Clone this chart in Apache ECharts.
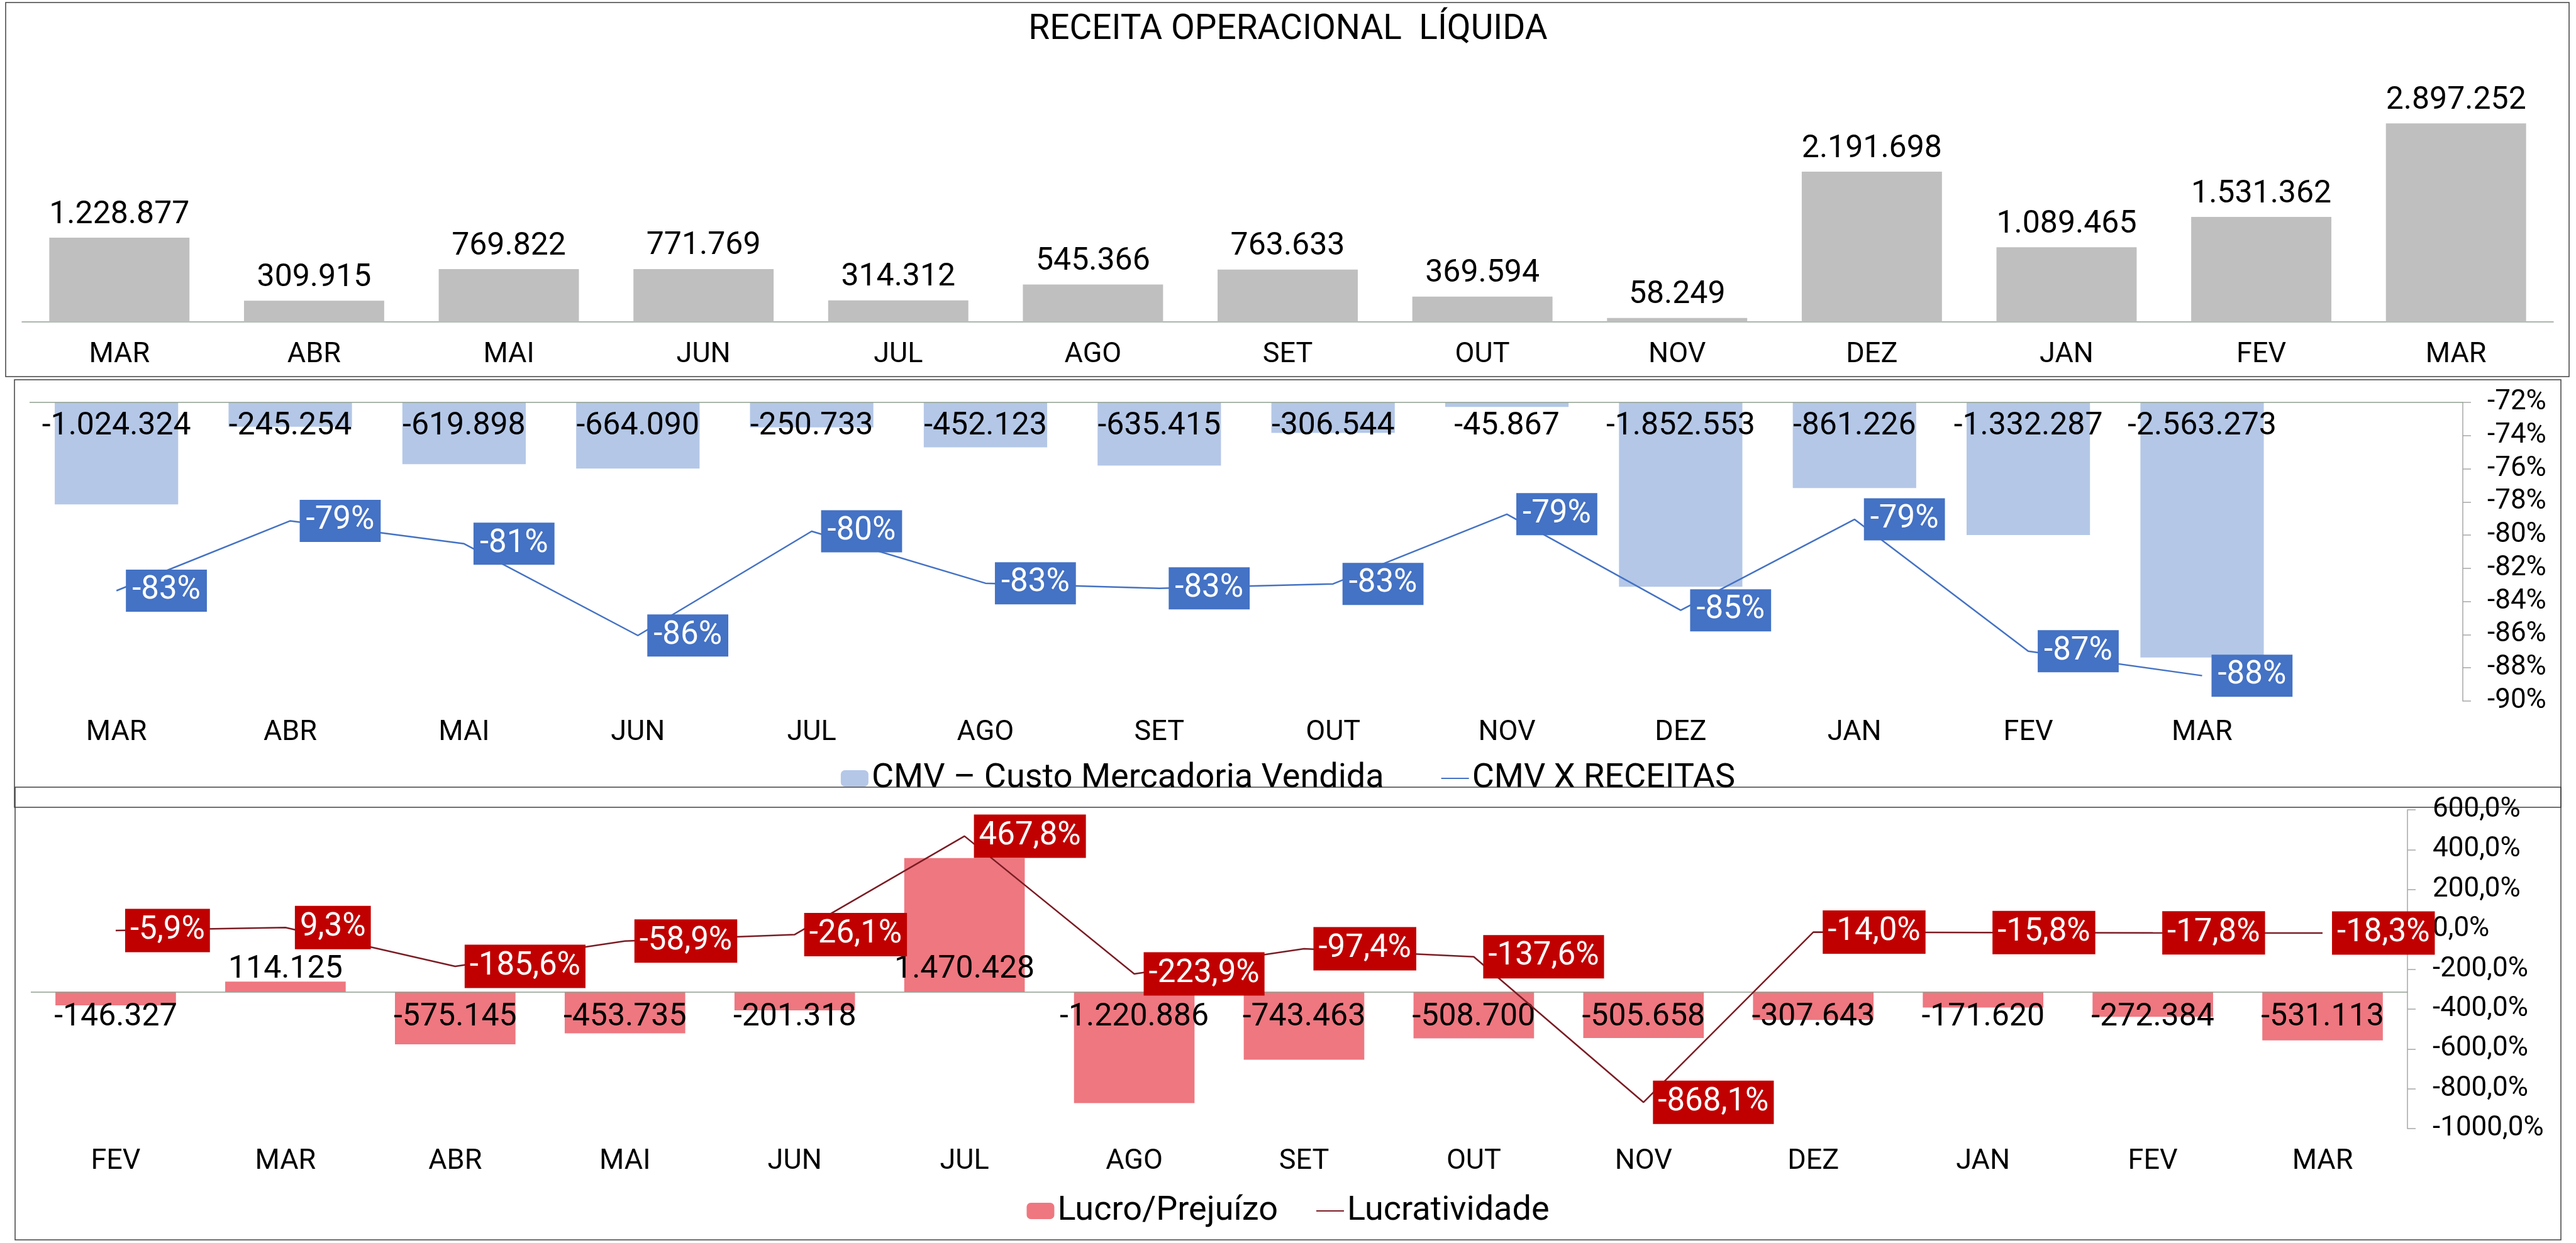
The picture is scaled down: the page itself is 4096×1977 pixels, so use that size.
<!DOCTYPE html>
<html>
<head>
<meta charset="utf-8">
<script src="https://cdn.jsdelivr.net/npm/echarts@6/dist/echarts.min.js"></script>
<style>
  html, body { margin: 0; padding: 0; background: #fff; }
  #chart { width: 4096px; height: 1977px; }
</style>
</head>
<body>
<div id="chart"></div>
<script>
// receita operacional
var meses1 = ['MAR', 'ABR', 'MAI', 'JUN', 'JUL', 'AGO', 'SET', 'OUT', 'NOV', 'DEZ', 'JAN', 'FEV', 'MAR'];
var receita = [1228877, 309915, 769822, 771769, 314312, 545366, 763633, 369594, 58249, 2191698, 1089465, 1531362, 2897252];

// CMV
var meses2 = ['MAR', 'ABR', 'MAI', 'JUN', 'JUL', 'AGO', 'SET', 'OUT', 'NOV', 'DEZ', 'JAN', 'FEV', 'MAR', ''];
var cmv = [-1024324, -245254, -619898, -664090, -250733, -452123, -635415, -306544, -45867, -1852553, -861226, -1332287, -2563273];
var cmvPct = [-83.35, -79.14, -80.52, -86.05, -79.77, -82.90, -83.21, -82.94, -78.74, -84.53, -79.05, -87.00, -88.47];

// lucro / prejuizo
var meses3 = ['FEV', 'MAR', 'ABR', 'MAI', 'JUN', 'JUL', 'AGO', 'SET', 'OUT', 'NOV', 'DEZ', 'JAN', 'FEV', 'MAR'];
var lucro = [-146327, 114125, -575145, -453735, -201318, 1470428, -1220886, -743463, -508700, -505658, -307643, -171620, -272384, -531113];
var lucrat = [-5.9, 9.3, -185.6, -58.9, -26.1, 467.8, -223.9, -97.4, -137.6, -868.1, -14.0, -15.8, -17.8, -18.3];

var FONT = 'Roboto';

function fmtNum(v) {
    var s = Math.abs(v).toString().replace(/\B(?=(\d{3})+(?!\d))/g, '.');
    return (v < 0 ? '-' : '') + s;
}

var chart = echarts.init(document.getElementById('chart'));

var zeroLine = {
    silent: true,
    symbol: ['none', 'none'],
    label: { show: false },
    lineStyle: { color: '#8e9e8e', width: 1.5, type: 'solid' },
    data: [{ yAxis: 0 }]
};

var option = {
    animation: false,
    backgroundColor: '#fff',
    textStyle: { fontFamily: FONT, color: '#000' },
    title: {
        text: 'RECEITA OPERACIONAL  LÍQUIDA',
        left: 'center',
        top: 16,
        textStyle: { fontFamily: FONT, fontSize: 55, fontWeight: 'normal', color: '#000' }
    },
    graphic: [
        { type: 'rect', shape: { x: 9, y: 4, width: 4076, height: 595 }, style: { fill: 'none', stroke: '#404040', lineWidth: 1.5 }, silent: true },
        { type: 'rect', shape: { x: 23, y: 604, width: 4049, height: 680 }, style: { fill: 'none', stroke: '#404040', lineWidth: 1.5 }, silent: true },
        { type: 'rect', shape: { x: 24, y: 1252, width: 4048, height: 720 }, style: { fill: 'none', stroke: '#404040', lineWidth: 1.5 }, silent: true }
    ],
    legend: [
        {
            data: ['CMV – Custo Mercadoria Vendida', 'CMV X RECEITAS'],
            left: 'center',
            top: 1206,
            itemWidth: 44,
            itemHeight: 26,
            itemGap: 90,
            textStyle: { fontFamily: FONT, fontSize: 54, color: '#000' }
        },
        {
            data: ['Lucro/Prejuízo', 'Lucratividade'],
            left: 'center',
            top: 1894,
            itemWidth: 44,
            itemHeight: 26,
            itemGap: 60,
            textStyle: { fontFamily: FONT, fontSize: 54, color: '#000' }
        }
    ],
    grid: [
        { left: 35, right: 36, top: 76, height: 436 },
        { left: 47, right: 180, top: 640, height: 475 },
        { left: 49, right: 268, top: 1288, height: 507 }
    ],
    xAxis: [
        {
            type: 'category', gridIndex: 0, data: meses1,
            axisLine: { show: true, lineStyle: { color: '#8e9e8e', width: 1.5 } },
            axisTick: { show: false },
            axisLabel: { fontFamily: FONT, fontSize: 45, color: '#000', margin: 30, interval: 0 }
        },
        {
            type: 'category', gridIndex: 1, data: meses2,
            axisLine: { show: false },
            axisTick: { show: false },
            axisLabel: { fontFamily: FONT, fontSize: 45, color: '#000', margin: 28, interval: 0 }
        },
        {
            type: 'category', gridIndex: 2, data: meses3,
            axisLine: { show: false },
            axisTick: { show: false },
            axisLabel: { fontFamily: FONT, fontSize: 45, color: '#000', margin: 30, interval: 0 }
        }
    ],
    yAxis: [
        { type: 'value', gridIndex: 0, min: 0, max: 4000000, show: false },
        { type: 'value', gridIndex: 1, min: -3000000, max: 0, show: false },
        {
            type: 'value', gridIndex: 1, position: 'right', min: -90, max: -72, interval: 2,
            splitLine: { show: false },
            axisLine: { show: true, lineStyle: { color: '#a6a6a6', width: 1.5 } },
            axisTick: { show: true, length: 13, lineStyle: { color: '#a6a6a6', width: 1.5 } },
            axisLabel: {
                fontFamily: FONT, fontSize: 44, color: '#000', margin: 39,
                formatter: function (v) { return Math.round(v) + '%'; }
            }
        },
        { type: 'value', gridIndex: 2, min: -1500000, max: 2000000, show: false },
        {
            type: 'value', gridIndex: 2, position: 'right', min: -1000, max: 600, interval: 200,
            splitLine: { show: false },
            axisLine: { show: true, onZero: false, lineStyle: { color: '#a6a6a6', width: 1.5 } },
            axisTick: { show: true, length: 13, lineStyle: { color: '#a6a6a6', width: 1.5 } },
            axisLabel: {
                fontFamily: FONT, fontSize: 44, color: '#000', margin: 40,
                formatter: function (v) { return v.toFixed(1).replace('.', ',') + '%'; }
            }
        }
    ],
    series: [
        {
            name: 'RECEITA OPERACIONAL LÍQUIDA',
            type: 'bar',
            xAxisIndex: 0, yAxisIndex: 0,
            barCategoryGap: '28%',
            data: receita,
            itemStyle: { color: '#bfbfbf' },
            label: {
                show: true, position: 'top', distance: 11,
                fontFamily: FONT, fontSize: 50, color: '#000',
                formatter: function (p) { return fmtNum(p.value); }
            }
        },
        {
            name: 'CMV – Custo Mercadoria Vendida',
            type: 'bar',
            xAxisIndex: 1, yAxisIndex: 1,
            barCategoryGap: '29%',
            data: cmv,
            itemStyle: { color: '#b4c7e7' },
            label: {
                show: true, position: 'insideTop', distance: 13,
                fontFamily: FONT, fontSize: 50, color: '#000',
                formatter: function (p) { return fmtNum(p.value); }
            },
            markLine: zeroLine
        },
        {
            name: 'CMV X RECEITAS',
            type: 'line',
            xAxisIndex: 1, yAxisIndex: 2,
            data: cmvPct,
            symbol: 'circle', symbolSize: 2,
            itemStyle: { color: 'rgba(0,0,0,0)' },
            lineStyle: { color: '#4472c4', width: 2.5 },
            z: 5,
            label: {
                show: true, position: 'right', distance: 14,
                backgroundColor: '#4472c4', padding: [8, 10],
                fontFamily: FONT, fontSize: 51, color: '#fff',
                formatter: function (p) { return Math.round(p.value) + '%'; }
            }
        },
        {
            name: 'Lucro/Prejuízo',
            type: 'bar',
            xAxisIndex: 2, yAxisIndex: 3,
            barCategoryGap: '29%',
            data: lucro.map(function (v) {
                return { value: v, label: { position: v < 0 ? 'insideTop' : 'insideBottom', distance: v < 0 ? 16 : 10 } };
            }),
            itemStyle: { color: '#ee7780' },
            label: {
                show: true,
                fontFamily: FONT, fontSize: 50, color: '#000',
                formatter: function (p) { return fmtNum(p.value); }
            },
            markLine: zeroLine
        },
        {
            name: 'Lucratividade',
            type: 'line',
            xAxisIndex: 2, yAxisIndex: 4,
            data: lucrat,
            symbol: 'circle', symbolSize: 2,
            itemStyle: { color: 'rgba(0,0,0,0)' },
            lineStyle: { color: '#7b1c24', width: 2.5 },
            z: 5,
            label: {
                show: true, position: 'right', distance: 14,
                backgroundColor: '#c00000', padding: [9, 8],
                fontFamily: FONT, fontSize: 51, color: '#fff',
                formatter: function (p) { return p.value.toFixed(1).replace('.', ',') + '%'; }
            }
        }
    ]
};

chart.setOption(option);
</script>
</body>
</html>
